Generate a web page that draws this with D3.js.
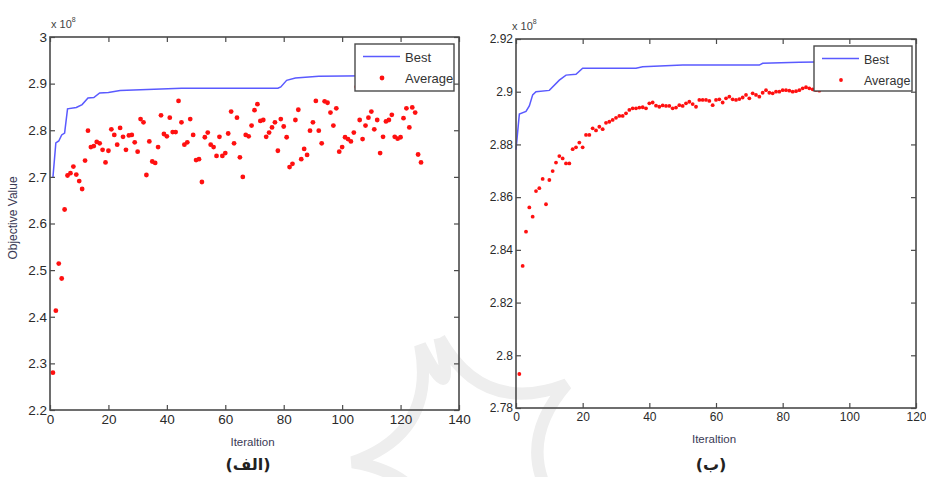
<!DOCTYPE html>
<html>
<head>
<meta charset="utf-8">
<script src="https://cdn.jsdelivr.net/npm/d3@7"></script>
<style>
  body { margin: 0; background: #fff; }
  svg { display: block; font-family: "Liberation Sans", Arial, sans-serif; }
</style>
</head>
<body>
<script>
// panel (الف): best-so-far line vertices (iteration, value x 1e8)
let bestLeftIter = [1, 2, 3, 4, 5, 6, 9, 11, 13, 15, 17, 20, 24, 31, 45, 78, 79, 81, 84, 92, 127];
let bestLeftVal = [2.699, 2.773, 2.777, 2.790, 2.794, 2.846, 2.849, 2.855, 2.869, 2.870, 2.880,
                   2.881, 2.885, 2.887, 2.890, 2.890, 2.893, 2.907, 2.912, 2.916, 2.918];

// panel (الف): population average, one value per iteration starting at 1
let avgLeft = [
  2.280, 2.413, 2.514, 2.482, 2.630, 2.703, 2.708, 2.722, 2.705, 2.691,
  2.674, 2.735, 2.799, 2.764, 2.766, 2.775, 2.772, 2.758, 2.731, 2.756,
  2.802, 2.790, 2.769, 2.805, 2.786, 2.758, 2.789, 2.790, 2.774, 2.754,
  2.824, 2.817, 2.704, 2.776, 2.733, 2.730, 2.764, 2.832, 2.792, 2.787,
  2.827, 2.796, 2.796, 2.863, 2.817, 2.769, 2.774, 2.824, 2.790, 2.736,
  2.738, 2.689, 2.785, 2.795, 2.769, 2.764, 2.745, 2.786, 2.745, 2.751,
  2.793, 2.840, 2.772, 2.827, 2.742, 2.700, 2.790, 2.787, 2.810, 2.843,
  2.856, 2.820, 2.822, 2.786, 2.795, 2.806, 2.817, 2.756, 2.824, 2.808,
  2.785, 2.721, 2.728, 2.822, 2.844, 2.738, 2.760, 2.747, 2.799, 2.817,
  2.863, 2.799, 2.772, 2.862, 2.859, 2.838, 2.810, 2.847, 2.754, 2.764,
  2.785, 2.781, 2.776, 2.795, 2.893, 2.822, 2.781, 2.810, 2.827, 2.840,
  2.802, 2.822, 2.751, 2.786, 2.819, 2.822, 2.833, 2.786, 2.782, 2.785,
  2.826, 2.847, 2.806, 2.849, 2.838, 2.748, 2.731
];

// panel (ب): best-so-far line vertices
let bestRightIter = [0, 1, 3, 4, 5, 6, 10, 13, 15, 18, 20, 36, 38, 50, 73, 74, 85, 100];
let bestRightVal = [2.8780, 2.8915, 2.8925, 2.8946, 2.8988, 2.9000, 2.9005, 2.9044, 2.9063,
                    2.9066, 2.9089, 2.9089, 2.9095, 2.9101, 2.9101, 2.9108, 2.9112, 2.9115];

// panel (ب): population average per iteration
let avgRight = [
  2.7929, 2.8339, 2.8469, 2.8561, 2.8526, 2.8623, 2.8634, 2.8669, 2.8573, 2.8665,
  2.8699, 2.8731, 2.8756, 2.8747, 2.8728, 2.8728, 2.8782, 2.8789, 2.8807, 2.8789,
  2.8836, 2.8836, 2.8861, 2.8853, 2.8867, 2.8858, 2.8882, 2.8886, 2.8893, 2.8901,
  2.8908, 2.8908, 2.8918, 2.8931, 2.8937, 2.8937, 2.8940, 2.8941, 2.8937, 2.8956,
  2.8959, 2.8947, 2.8943, 2.8948, 2.8946, 2.8946, 2.8937, 2.8940, 2.8949, 2.8946,
  2.8956, 2.8962, 2.8953, 2.8943, 2.8969, 2.8969, 2.8969, 2.8965, 2.8949, 2.8969,
  2.8971, 2.8959, 2.8975, 2.8981, 2.8971, 2.8969, 2.8972, 2.8978, 2.8988, 2.8975,
  2.8994, 2.8988, 2.8981, 2.8996, 2.9006, 2.8996, 2.8994, 2.9000, 2.9000, 2.9006,
  2.9006, 2.9004, 2.9000, 2.9002, 2.9006, 2.9013, 2.9017, 2.9013, 2.9009, 2.9006,
  2.9004
];

let leftXTicks = [0, 20, 40, 60, 80, 100, 120, 140];
let leftYTicks = [2.2, 2.3, 2.4, 2.5, 2.6, 2.7, 2.8, 2.9, 3];
let rightXTicks = [0, 20, 40, 60, 80, 100, 120];
let rightYTicks = [2.78, 2.8, 2.82, 2.84, 2.86, 2.88, 2.9, 2.92];

let width = 926;
let height = 477;
let svg = d3.select("body").append("svg")
            .attr("width", width)
            .attr("height", height);

let lineColor = "#5a5aff";
let dotColor = "#ff1010";
let frameColor = "#4a4a4a";

function trimNum(d) {
  return String(+d.toFixed(2));
}

// faint watermark behind everything
function drawWatermark() {
  let cx = 470, cy = 452, r = 118, inner = 38;
  let angles = [-105, -35, 35, 105, 175, 245].map(a => a * Math.PI / 180);
  let pts = angles.map(a => [cx + r * Math.cos(a), cy + r * Math.sin(a)]);
  let p = d3.path();
  p.moveTo(pts[0][0], pts[0][1]);
  for (let i = 0; i < pts.length; i++) {
    let a = (angles[i] + angles[(i + 1) % pts.length] + (i == pts.length - 1 ? 2 * Math.PI : 0)) / 2;
    let next = pts[(i + 1) % pts.length];
    p.quadraticCurveTo(cx + inner * Math.cos(a), cy + inner * Math.sin(a), next[0], next[1]);
  }
  svg.append("path")
     .attr("d", p.toString())
     .attr("fill", "none")
     .attr("stroke", "#eeeeee")
     .attr("stroke-width", 12);
}

function drawPanel(cfg) {
  let x = d3.scaleLinear().domain(cfg.xDomain).range([cfg.left, cfg.right]);
  let y = d3.scaleLinear().domain(cfg.yDomain).range([cfg.bottom, cfg.top]);
  let g = svg.append("g");

  // data first, frame and legend on top
  let line = d3.line()
               .x(function(d) { return x(d[0]); })
               .y(function(d) { return y(d[1]); });

  g.append("path")
   .datum(cfg.bestIter.map((it, i) => [it, cfg.bestVal[i]]))
   .attr("d", line)
   .attr("fill", "none")
   .attr("stroke", lineColor)
   .attr("stroke-width", 1.5);

  g.append("g")
   .selectAll("circle")
   .data(cfg.avg)
   .enter().append("circle")
   .attr("cx", function(d, i) { return x(i + 1); })
   .attr("cy", function(d) { return y(d); })
   .attr("r", cfg.dotR)
   .attr("fill", dotColor);

  let xAxis = d3.axisBottom(x).tickValues(cfg.xTicks).tickSize(-5).tickSizeOuter(0)
                .tickPadding(cfg.xPad).tickFormat(trimNum);
  let yAxis = d3.axisLeft(y).tickValues(cfg.yTicks).tickSize(-5).tickSizeOuter(0)
                .tickPadding(cfg.yPad).tickFormat(trimNum);

  let gx = g.append("g").attr("transform", "translate(0," + cfg.bottom + ")").call(xAxis);
  let gy = g.append("g").attr("transform", "translate(" + cfg.left + ",0)").call(yAxis);
  g.append("g").attr("transform", "translate(0," + cfg.top + ")")
   .call(d3.axisTop(x).tickValues(cfg.xTicks).tickSize(-5).tickSizeOuter(0).tickFormat(""));
  g.append("g").attr("transform", "translate(" + cfg.right + ",0)")
   .call(d3.axisRight(y).tickValues(cfg.yTicks).tickSize(-5).tickSizeOuter(0).tickFormat(""));

  g.selectAll(".domain").remove();
  g.selectAll(".tick line").attr("stroke", frameColor).attr("stroke-width", 1.2);
  gx.selectAll("text").attr("font-size", cfg.tickFont).attr("fill", "#2a2a2a");
  gy.selectAll("text").attr("font-size", cfg.tickFont).attr("fill", "#2a2a2a");

  g.append("rect")
   .attr("x", cfg.left).attr("y", cfg.top)
   .attr("width", cfg.right - cfg.left).attr("height", cfg.bottom - cfg.top)
   .attr("fill", "none")
   .attr("stroke", frameColor)
   .attr("stroke-width", 1.6);

  // exponent marker
  let ex = g.append("text")
            .attr("x", cfg.expX).attr("y", cfg.top - 9)
            .attr("font-size", 11).attr("fill", "#444");
  ex.append("tspan").text("x 10");
  ex.append("tspan").attr("dy", -6).attr("font-size", 7).text("8");

  g.append("text")
   .attr("x", (cfg.left + cfg.right) / 2 - 2).attr("y", cfg.xLabelY)
   .attr("text-anchor", "middle")
   .attr("font-size", 11.5).attr("fill", "#3a3a55")
   .text("Iteraltion");

  // legend box
  let lg = g.append("g").attr("transform", "translate(" + cfg.legend[0] + "," + cfg.legend[1] + ")");
  lg.append("rect")
    .attr("width", cfg.legend[2]).attr("height", cfg.legend[3])
    .attr("fill", "#fff")
    .attr("stroke", frameColor)
    .attr("stroke-width", 1.4);
  lg.append("line")
    .attr("x1", 8).attr("x2", 45).attr("y1", 12.5).attr("y2", 12.5)
    .attr("stroke", lineColor).attr("stroke-width", 1.5);
  lg.append("circle")
    .attr("cx", 27).attr("cy", 34).attr("r", cfg.dotR)
    .attr("fill", dotColor);
  lg.append("text").attr("x", 50).attr("y", 17.5)
    .attr("font-size", cfg.legendFont).attr("fill", "#333").text("Best");
  lg.append("text").attr("x", 50).attr("y", 39)
    .attr("font-size", cfg.legendFont).attr("fill", "#333").text("Average");

  g.append("text")
   .attr("x", cfg.captionX).attr("y", 470)
   .attr("text-anchor", "middle")
   .attr("font-size", 16).attr("font-weight", "bold").attr("fill", "#222")
   .attr("font-family", "'DejaVu Sans', 'Noto Sans', sans-serif")
   .text(cfg.caption);

  return g;
}

drawWatermark();

drawPanel({
  xDomain: [0, 140], yDomain: [2.2, 3],
  left: 50, right: 459, top: 37, bottom: 410,
  xTicks: leftXTicks, yTicks: leftYTicks,
  bestIter: bestLeftIter, bestVal: bestLeftVal, avg: avgLeft,
  dotR: 2.4, xPad: 4, yPad: 3, tickFont: 13.5,
  expX: 51, xLabelY: 446,
  legend: [355, 44, 99, 47], legendFont: 13,
  caption: "(الف)", captionX: 248
});

drawPanel({
  xDomain: [0, 120], yDomain: [2.78, 2.92],
  left: 516, right: 916, top: 39, bottom: 408,
  xTicks: rightXTicks, yTicks: rightYTicks,
  bestIter: bestRightIter, bestVal: bestRightVal, avg: avgRight,
  dotR: 1.9, xPad: 4, yPad: 3, tickFont: 12,
  expX: 512, xLabelY: 443,
  legend: [814, 46, 98, 45], legendFont: 12.5,
  caption: "(ب)", captionX: 711
});

// y label only on the left panel
svg.append("text")
   .attr("transform", "translate(17,218) rotate(-90)")
   .attr("text-anchor", "middle")
   .attr("font-size", 12).attr("fill", "#3a3a55")
   .text("Objective Value");
</script>
</body>
</html>
